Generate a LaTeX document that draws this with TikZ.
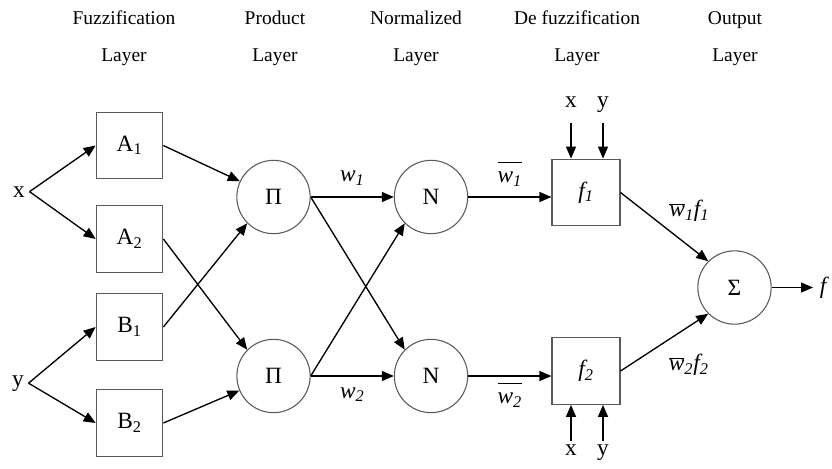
\documentclass[tikz,border=0pt]{standalone}
\usepackage{fontspec}
\setmainfont{Liberation Serif}
\usepackage{tikz}
\usetikzlibrary{
  positioning,
  arrows.meta,
  calc
}
\definecolor{edgeGray}{HTML}{5A5A5A}
\newcommand{\nodefont}{\fontsize{17.5}{20}\selectfont}
\newcommand{\headfont}{\fontsize{14.6}{27.7}\selectfont}
\tikzset{
  head/.style    = {anchor=north, inner sep=0pt, align=center, font=\headfont},
  fzbox/.style   = {rectangle, draw=edgeGray, line width=0.8pt,
                    minimum width=50pt, minimum height=50pt, font=\nodefont},
  defbox/.style  = {rectangle, draw=edgeGray, line width=0.8pt,
                    minimum width=51pt, minimum height=50pt, font=\nodefont\itshape},
  ring/.style    = {circle, draw=edgeGray, line width=0.8pt,
                    minimum size=55pt, inner sep=0pt, font=\nodefont},
  lbl/.style     = {font=\nodefont},
  wlbl/.style    = {font=\nodefont\itshape},
  arrow/.style   = {-{Triangle[length=9pt, width=7.5pt]}, line width=1pt, draw=black}
}

\begin{document}
\begin{tikzpicture}[x=0.75pt, y=-0.75pt]
  \useasboundingbox (0,0) rectangle (832,468);
  % Layer titles along the top
  \foreach \px/\t in {124/Fuzzification, 275/Product, 416/Normalized,
                      577/De fuzzification, 735/Output}{
    \node[head] (hd\px) at (\px, 11) {\t\\Layer};
  }
  % Inputs
  \node[lbl, anchor=base] (inX) at (19, 197) {x};
  \node[lbl, anchor=base] (inY) at (18, 386) {y};
  % Membership boxes
  \foreach \n/\t/\k/\py in {A1/A/1/145.5, A2/A/2/239, B1/B/1/327, B2/B/2/423}{
    \node[fzbox] (fz\n) at (129.5, \py) {\t\textsubscript{\k}};
  }
  % Product and normalisation rings
  \node[ring] (prod1) at (273.5, 197) {Π};
  \node[ring] (prod2) at (273.5, 376) {Π};
  \node[ring] (norm1) at (431, 197) {N};
  \node[ring] (norm2) at (431, 376) {N};
  % Consequent boxes
  \node[defbox] (defz1) at (586, 192.5) {f\textsubscript{1}};
  \node[defbox] (defz2) at (586, 371) {f\textsubscript{2}};
  % Summation and output
  \node[ring] (sumout) at (734.5, 287.5) {Σ};
  \node[wlbl, anchor=west, inner sep=5pt] (fout) at (813, 287.5) {f};

  % Input -> fuzzification
  \draw[arrow] (inX.east) -- (fzA1.west);
  \draw[arrow] (inX.east) -- (fzA2.west);
  \draw[arrow] (inY.east) -- (fzB1.west);
  \draw[arrow] (inY.east) -- (fzB2.west);
  % Fuzzification -> product
  \draw[arrow] (fzA1.east) -- (prod1);
  \draw[arrow] (fzA2.east) -- (prod2.north west);
  \draw[arrow] (fzB1.east) -- (prod1.south west);
  \draw[arrow] (fzB2.east) -- (prod2);
  % Product -> normalised
  \draw[arrow] (prod1) -- node[wlbl, above=5pt] {w\textsubscript{1}} (norm1);
  \draw[arrow] (prod2) -- node[wlbl, below=5pt] {w\textsubscript{2}} (norm2);
  \draw[arrow] (prod1.east) -- (norm2.north west);
  \draw[arrow] (prod2.east) -- (norm1.south west);
  % Normalised -> defuzzification
  \draw[arrow] (norm1) -- node[wlbl, above=1pt]
    {$\overline{\mbox{\nodefont\itshape\strut w\textsubscript{1}}}$} (norm1 -| defz1.west);
  \draw[arrow] (norm2) -- node[wlbl, below=1pt]
    {$\overline{\mbox{\nodefont\itshape\strut w\textsubscript{2}}}$} (norm2 -| defz2.west);
  % x, y fed into the consequent boxes
  \foreach \v/\t/\px in {X/x/571, Y/y/603}{
    \node[lbl, anchor=base] (top\v) at (\px, 107) {\t};
    \draw[arrow] ([yshift=-12pt]top\v.base) -- (top\v |- defz1.north);
    \node[lbl, anchor=base] (bot\v) at (\px, 455) {\t};
    \draw[arrow] ([yshift=10.5pt]bot\v.base) -- (bot\v |- defz2.south);
  }
  % Defuzzification -> sum -> output
  \draw[arrow] (defz1.east) -- node[wlbl, pos=0.5, above right]
    {$\overline{\mbox{\nodefont\itshape w}}$\textsubscript{1}f\textsubscript{1}} (sumout.north west);
  \draw[arrow] (defz2.east) -- node[wlbl, pos=0.45, below right=4pt]
    {$\overline{\mbox{\nodefont\itshape w}}$\textsubscript{2}f\textsubscript{2}} (sumout.south west);
  \draw[arrow] (sumout) -- (fout);
\end{tikzpicture}
\end{document}
